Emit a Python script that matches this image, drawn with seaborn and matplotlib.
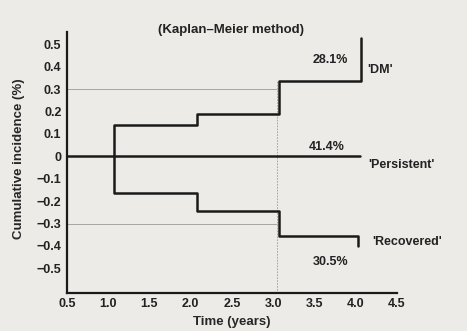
import matplotlib
matplotlib.use("Agg")
import matplotlib.pyplot as plt
import seaborn as sns
import pandas as pd

# Data
dm_time = [1.07, 1.07, 2.08, 3.07, 4.07, 4.07]
dm_value = [0.0, 0.14, 0.19, 0.335, 0.335, 0.53]
rec_time = [1.07, 1.07, 2.08, 3.07, 4.03, 4.03]
rec_value = [0.0, -0.165, -0.245, -0.355, -0.355, -0.40]
pers_time = [0.5, 4.05]
pers_value = [0.0, 0.0]
x_ticks = [0.5, 1.0, 1.5, 2.0, 2.5, 3.0, 3.5, 4.0, 4.5]
y_ticks = [0.5, 0.4, 0.3, 0.2, 0.1, 0, -0.1, -0.2, -0.3, -0.4, -0.5]
y_ticklabels = ["0.5", "0.4", "0.3", "0.2", "0.1", "0", "\u22120.1", "\u22120.2",
                "\u22120.3", "\u22120.4", "\u22120.5"]
group_names = ["'DM'", "'Persistent'", "'Recovered'"]
percent_labels = ["28.1%", "41.4%", "30.5%"]

sns.set_style("white")
plt.rcParams['font.family'] = ['Liberation Sans', 'DejaVu Sans']
bg = '#ecebe8'

fig = plt.figure(figsize=(4.67, 3.31), dpi=100, facecolor=bg)
ax = fig.add_axes([0.1435, 0.115, 0.7065, 0.788])
ax.set_facecolor(bg)

# reference lines
ax.hlines([0.3, -0.3], 0.5, 3.05, color='#9a9a9a', lw=0.6, zorder=1)
ax.vlines(3.05, -0.61, 0.34, color='#9a9a9a', lw=0.6, linestyle=(0, (2, 1.5)), zorder=1)

dm = pd.DataFrame({"t": dm_time, "v": dm_value})
rec = pd.DataFrame({"t": rec_time, "v": rec_value})
pers = pd.DataFrame({"t": pers_time, "v": pers_value})
for d in (dm, rec, pers):
    sns.lineplot(data=d, x="t", y="v", ax=ax, sort=False, estimator=None,
                 drawstyle='steps-post', color='#1a1a1a', lw=1.8, zorder=3)

ax.set_xlim(0.5, 4.5)
ax.set_ylim(-0.61, 0.555)
ax.set_xticks(x_ticks)
ax.set_xticklabels([f"{v:.1f}" for v in x_ticks])
ax.set_yticks(y_ticks)
ax.set_yticklabels(y_ticklabels)
ax.tick_params(length=0, labelsize=9, pad=4, colors='#222222')
for lab in ax.get_xticklabels() + ax.get_yticklabels():
    lab.set_fontweight('bold')
for s in ['top', 'right']:
    ax.spines[s].set_visible(False)
for s in ['left', 'bottom']:
    ax.spines[s].set_color('#1a1a1a')
    ax.spines[s].set_linewidth(1.6)

ax.set_xlabel("Time (years)", fontsize=9.5, fontweight='bold')
ax.set_ylabel("Cumulative incidence (%)", fontsize=9.5, fontweight='bold')
ax.xaxis.set_label_coords(0.5, -0.09)
ax.yaxis.set_label_coords(-0.127, 0.513)

tk = dict(fontsize=9, fontweight='bold', color='#222222')
ax.text(4.14, 0.385, group_names[0], ha='left', va='center', **tk)
ax.text(4.15, -0.039, group_names[1], ha='left', va='center', **tk)
ax.text(4.2, -0.383, group_names[2], ha='left', va='center', **tk)
ax.text(3.69, 0.43, percent_labels[0], ha='center', va='center', **tk)
ax.text(3.65, 0.042, percent_labels[1], ha='center', va='center', **tk)
ax.text(3.69, -0.472, percent_labels[2], ha='center', va='center', **tk)

fig.text(231 / 467, 1 - 30 / 331, "(Kaplan\u2013Meier method)", ha='center', va='center',
         fontsize=9.5, fontweight='bold', color='#222222')

fig.savefig("out.png", dpi=100, facecolor=bg)
